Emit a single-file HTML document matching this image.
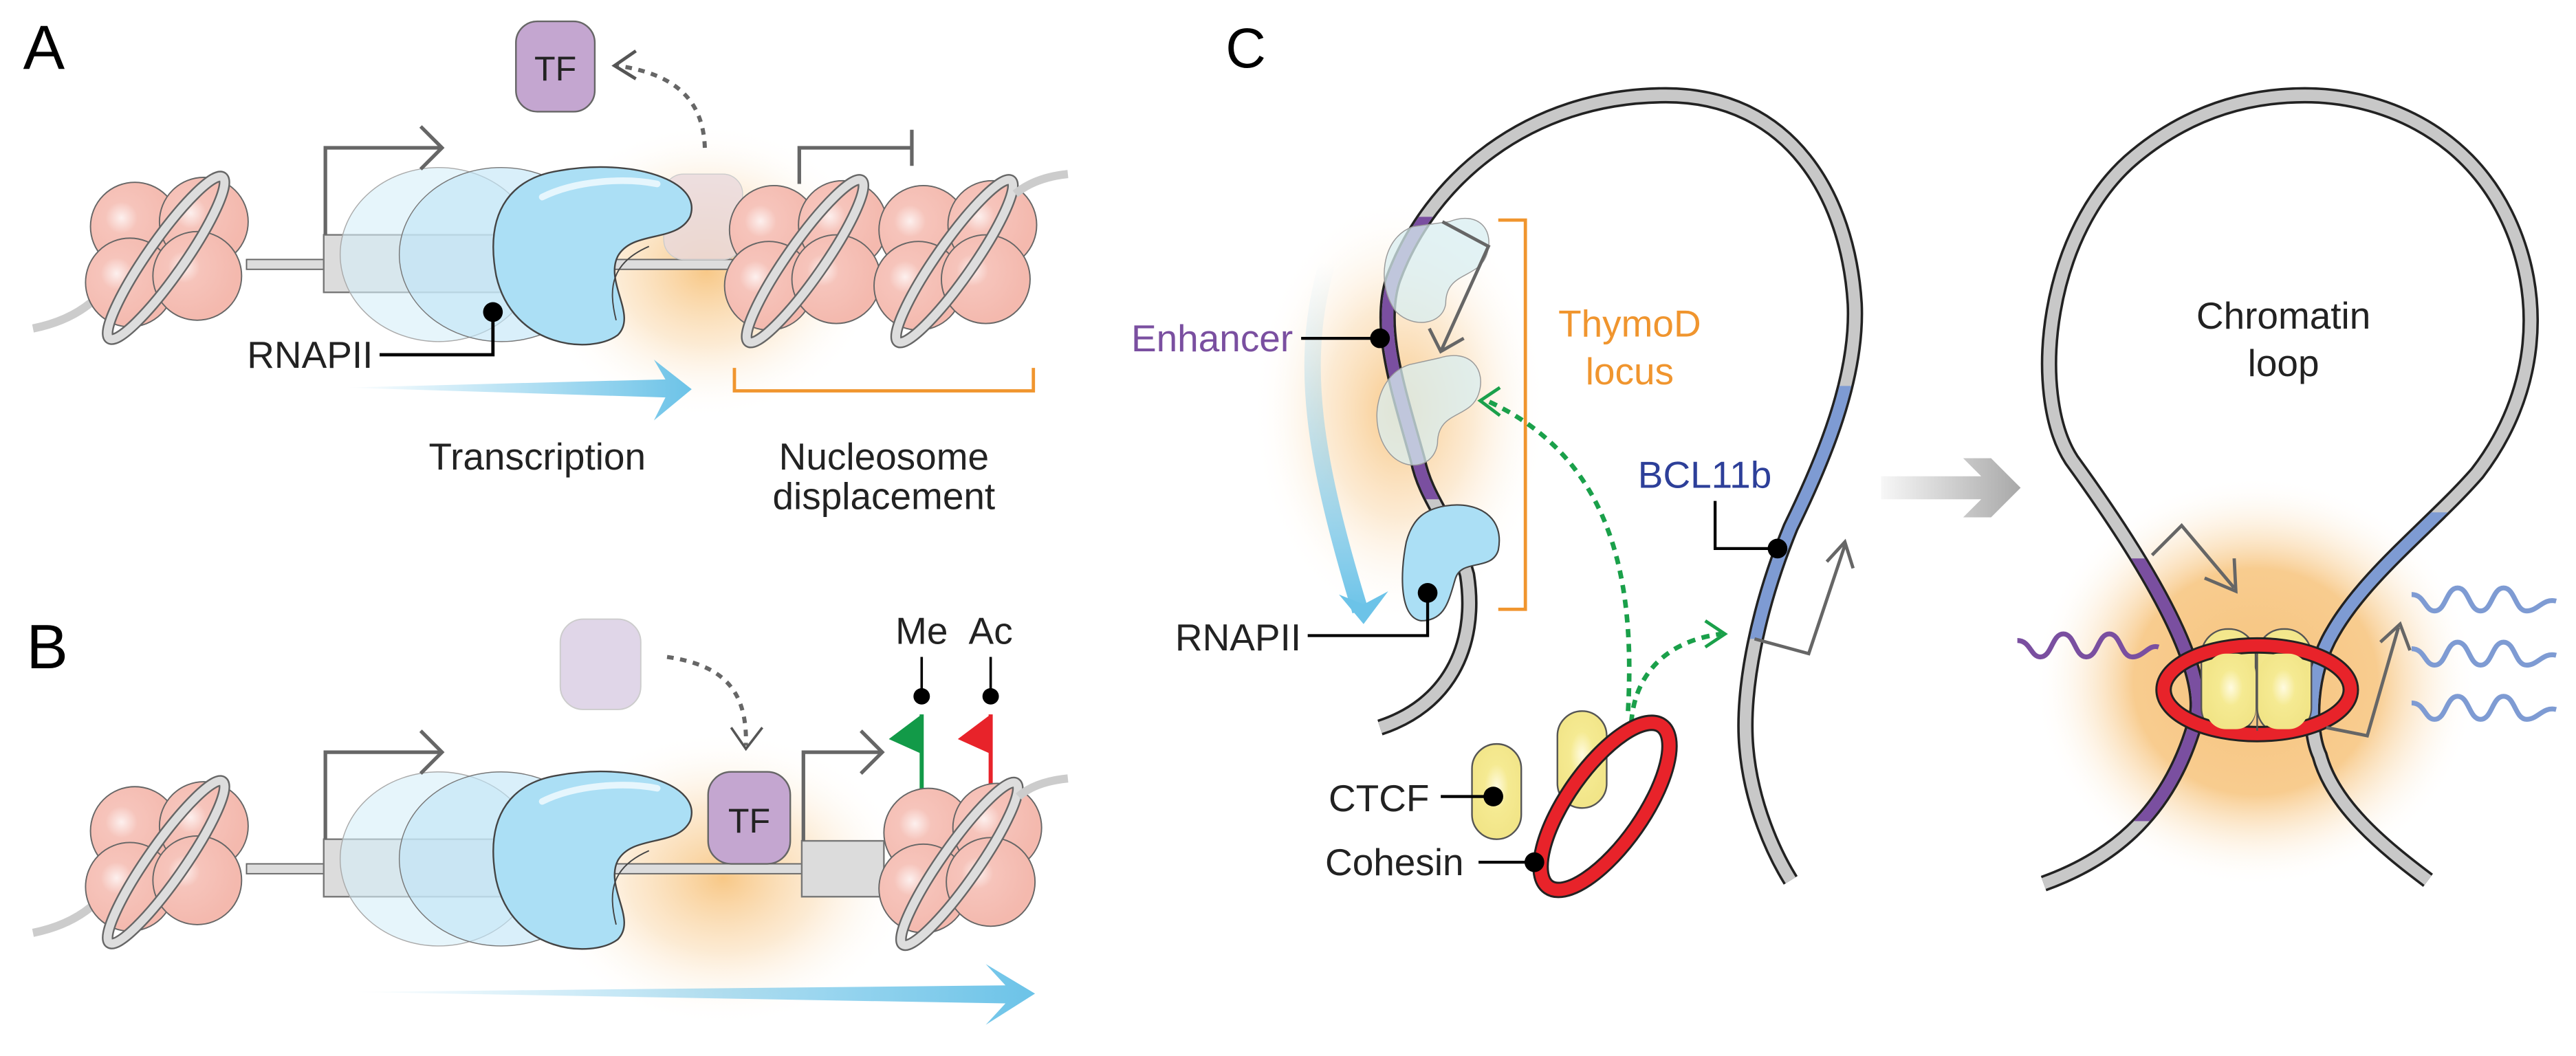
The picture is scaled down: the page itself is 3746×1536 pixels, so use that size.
<!DOCTYPE html>
<html><head><meta charset="utf-8"><style>
html,body{margin:0;padding:0;background:#fff;}
svg{display:block;}
text{font-family:"Liberation Sans",Arial,sans-serif;}
</style></head><body>
<svg width="3746" height="1536" viewBox="0 0 1568 643" xmlns="http://www.w3.org/2000/svg">
<defs>
<radialGradient id="sph" cx="0.35" cy="0.4" r="0.6">
<stop offset="0" stop-color="#fdf0ee"/><stop offset="0.3" stop-color="#f6c4bb"/><stop offset="1" stop-color="#f4b9ae"/></radialGradient>
<radialGradient id="glow" cx="0.5" cy="0.5" r="0.5">
<stop offset="0" stop-color="#f7c27a" stop-opacity="0.9"/><stop offset="0.5" stop-color="#f9d29e" stop-opacity="0.45"/><stop offset="1" stop-color="#fff" stop-opacity="0"/></radialGradient>
<radialGradient id="glow2" cx="0.5" cy="0.5" r="0.5">
<stop offset="0" stop-color="#f6c47e"/><stop offset="0.55" stop-color="#f8cc8f"/><stop offset="1" stop-color="#fff" stop-opacity="0"/></radialGradient>
<linearGradient id="blueArr" x1="0" x2="1" y1="0" y2="0">
<stop offset="0" stop-color="#6cc3e8" stop-opacity="0"/><stop offset="1" stop-color="#6cc3e8"/></linearGradient>
<linearGradient id="grayArr" x1="0" x2="1" y1="0" y2="0">
<stop offset="0" stop-color="#aaa" stop-opacity="0.1"/><stop offset="1" stop-color="#a8a8a8"/></linearGradient>
<linearGradient id="blueV" x1="0" x2="0" y1="0" y2="1">
<stop offset="0" stop-color="#9fd4ee" stop-opacity="0"/><stop offset="1" stop-color="#6cc3e8"/></linearGradient>
<radialGradient id="yel" cx="0.5" cy="0.45" r="0.6">
<stop offset="0" stop-color="#fffbe0"/><stop offset="0.4" stop-color="#f5ea92"/><stop offset="1" stop-color="#f1e486"/></radialGradient>
<clipPath id="cpL"><rect x="820" y="132" width="80" height="172"/></clipPath>
<clipPath id="cbL"><rect x="1060" y="235" width="80" height="154"/></clipPath>
<clipPath id="cpR"><rect x="1280" y="340" width="80" height="160"/></clipPath>
<clipPath id="cbR"><rect x="1390" y="312" width="110" height="134"/></clipPath>
<g id="nuc">
<circle cx="-19" cy="-17" r="27" fill="url(#sph)" stroke="#666" stroke-width="0.8"/>
<circle cx="23" cy="-20" r="27" fill="url(#sph)" stroke="#666" stroke-width="0.8"/>
<circle cx="-22" cy="17" r="27" fill="url(#sph)" stroke="#666" stroke-width="0.8"/>
<circle cx="19" cy="13" r="27" fill="url(#sph)" stroke="#666" stroke-width="0.8"/>
<ellipse cx="0" cy="2" rx="60" ry="11" transform="rotate(-55 0 2)" fill="none" stroke="#666" stroke-width="7"/>
<ellipse cx="0" cy="2" rx="60" ry="11" transform="rotate(-55 0 2)" fill="none" stroke="#ddd" stroke-width="5"/>
</g>
<g id="pol">
<path d="M340 104 C385 96 428 110 420 132 C412 148 385 140 376 156 C368 172 388 192 376 204 C360 216 312 212 302 168 C294 126 314 108 340 104Z" fill="#abdff5" stroke="#444" stroke-width="1"/>
<path d="M375 195 C370 175 372 160 395 150" fill="none" stroke="#444" stroke-width="0.8"/>
<path d="M330 120 C350 110 380 108 400 112" fill="none" stroke="#e6f6fd" stroke-width="4" stroke-linecap="round"/>
</g>
<path id="lstr" d="M840 443 C880 430 900 395 893 350 C885 320 868 305 863 280 C852 240 838 200 848 170 C870 110 930 58 1014 58 C1090 58 1125 120 1129 185 C1131 230 1110 280 1090 321 C1070 370 1060 420 1063 455 C1066 490 1080 520 1090 536"/>
<path id="rstr" d="M1244 538 C1280 525 1320 500 1337 437 C1345 400 1290 320 1261 280 C1235 240 1245 140 1300 95 C1340 62 1380 58 1403 58 C1450 58 1500 80 1525 130 C1550 180 1545 240 1508 288 C1480 320 1440 350 1420 385 C1405 410 1405 445 1412 460 C1420 490 1450 515 1478 536"/>
</defs>
<rect width="1568" height="643" fill="#fff"/>

<!-- ===== Panel A ===== -->
<text x="14" y="42" font-size="38">A</text>
<ellipse cx="430" cy="165" rx="105" ry="90" fill="url(#glow)"/>
<path d="M20 200 Q45 195 60 180" stroke="#ccc" stroke-width="5" fill="none"/>
<rect x="150" y="158" width="48" height="6" fill="#ddd" stroke="#666" stroke-width="0.8"/>
<rect x="197" y="143" width="110" height="35" fill="#dcdcdc" stroke="#777" stroke-width="1"/>
<use href="#nuc" x="101" y="155"/>
<ellipse cx="267" cy="155" rx="60" ry="53" fill="#d5eef9" fill-opacity="0.6" stroke="#aaa" stroke-width="0.6"/>
<ellipse cx="305" cy="155" rx="62" ry="53" fill="#bfe5f6" fill-opacity="0.6" stroke="#777" stroke-width="0.6"/>
<rect x="360" y="158" width="88" height="6" fill="#ddd" stroke="#666" stroke-width="0.8"/>
<rect x="404" y="106" width="48" height="52" rx="12" fill="#e8d8dc" fill-opacity="0.8" stroke="#ccc" stroke-width="0.6"/>
<use href="#pol"/>
<path d="M198 143 V90 H268 M256 77 L269 90 L256 103" fill="none" stroke="#666" stroke-width="2.2"/>
<use href="#nuc" x="490" y="157"/>
<use href="#nuc" x="581" y="157"/>
<path d="M618 118 Q630 108 650 106" stroke="#ccc" stroke-width="5" fill="none"/>
<path d="M486.5 112 V90 H555 M555 79 V101" fill="none" stroke="#666" stroke-width="2.2"/>
<rect x="314" y="13" width="48" height="55" rx="13" fill="#c4a6d0" stroke="#666" stroke-width="1"/>
<text x="338" y="49" font-size="21" text-anchor="middle" fill="#222">TF</text>
<path d="M429 90 C428 60 410 45 376 40" fill="none" stroke="#666" stroke-width="2.5" stroke-dasharray="4 4"/>
<path d="M387 31 L374 40 L387 48" fill="none" stroke="#555" stroke-width="2"/>
<circle cx="300" cy="190" r="6" fill="#000"/>
<path d="M300 190 V216 H231" fill="none" stroke="#000" stroke-width="2"/>
<text x="227" y="224" font-size="23" text-anchor="end" fill="#222">RNAPII</text>
<path d="M210 236 L405 231 L398 219 L421 237 L398 256 L405 242 Z" fill="url(#blueArr)"/>
<path d="M447 224 V238 H629 V224" fill="none" stroke="#f0952e" stroke-width="2"/>
<text x="327" y="286" font-size="23" text-anchor="middle" fill="#222">Transcription</text>
<text x="538" y="286" font-size="23" text-anchor="middle" fill="#222">Nucleosome</text>
<text x="538" y="310" font-size="23" text-anchor="middle" fill="#222">displacement</text>

<!-- ===== Panel B ===== -->
<text x="16" y="407" font-size="38">B</text>
<ellipse cx="440" cy="535" rx="115" ry="90" fill="url(#glow)"/>
<path d="M20 568 Q45 563 60 548" stroke="#ccc" stroke-width="5" fill="none"/>
<rect x="150" y="526" width="48" height="6" fill="#ddd" stroke="#666" stroke-width="0.8"/>
<rect x="197" y="511" width="110" height="35" fill="#dcdcdc" stroke="#777" stroke-width="1"/>
<use href="#nuc" x="101" y="523"/>
<ellipse cx="267" cy="523" rx="60" ry="53" fill="#d5eef9" fill-opacity="0.6" stroke="#aaa" stroke-width="0.6"/>
<ellipse cx="305" cy="523" rx="62" ry="53" fill="#bfe5f6" fill-opacity="0.6" stroke="#777" stroke-width="0.6"/>
<rect x="360" y="526" width="130" height="6" fill="#ddd" stroke="#666" stroke-width="0.8"/>
<g transform="translate(0,368)"><use href="#pol"/></g>
<path d="M198 511 V458 H268 M256 445 L269 458 L256 471" fill="none" stroke="#666" stroke-width="2.2"/>
<rect x="431" y="470" width="50" height="56" rx="14" fill="#c4a6d0" stroke="#666" stroke-width="1"/>
<text x="456" y="507" font-size="21" text-anchor="middle" fill="#222">TF</text>
<rect x="341" y="377" width="49" height="55" rx="14" fill="#e0d6e8" stroke="#ccc" stroke-width="0.8"/>
<path d="M406 400 C440 405 455 420 454 454" fill="none" stroke="#666" stroke-width="2.5" stroke-dasharray="4 4"/>
<path d="M445 443 L454 456 L464 443" fill="none" stroke="#555" stroke-width="1.5"/>
<rect x="488" y="512" width="50" height="34" fill="#dcdcdc" stroke="#777" stroke-width="1"/>
<path d="M489 512 V458 H536 M524 445 L537 458 L524 471" fill="none" stroke="#666" stroke-width="2.2"/>
<line x1="561" y1="435" x2="561" y2="482" stroke="#129a48" stroke-width="2.5"/>
<path d="M561 435 L541 450 L561 459Z" fill="#129a48"/>
<line x1="603" y1="435" x2="603" y2="482" stroke="#e8232a" stroke-width="2.5"/>
<path d="M603 435 L583 450 L603 459Z" fill="#e8232a"/>
<use href="#nuc" x="584" y="524"/>
<path d="M620 485 Q630 476 650 474" stroke="#ccc" stroke-width="5" fill="none"/>
<line x1="561" y1="400" x2="561" y2="424" stroke="#000" stroke-width="1.5"/>
<circle cx="561" cy="424" r="5" fill="#000"/>
<line x1="603" y1="400" x2="603" y2="424" stroke="#000" stroke-width="1.5"/>
<circle cx="603" cy="424" r="5" fill="#000"/>
<text x="561" y="392" font-size="23" text-anchor="middle" fill="#222">Me</text>
<text x="603" y="392" font-size="23" text-anchor="middle" fill="#222">Ac</text>
<path d="M214 604 L612 600 L600 587 L630 605 L600 624 L612 611 Z" fill="url(#blueArr)"/>

<!-- ===== Panel C left ===== -->
<text x="746" y="41" font-size="34">C</text>
<ellipse cx="852" cy="250" rx="90" ry="130" fill="url(#glow)"/>
<path d="M808 160 C790 220 800 280 828 372" fill="none" stroke="url(#blueV)" stroke-width="10"/>
<path d="M815 362 L830 380 L845 360 L830 368 Z" fill="#6cc3e8"/>
<g fill="none">
<use href="#lstr" stroke="#222" stroke-width="10"/>
<use href="#lstr" stroke="#c8c8c8" stroke-width="7"/>
<use href="#lstr" stroke="#7a4fa0" stroke-width="7" clip-path="url(#cpL)"/>
<use href="#lstr" stroke="#7e9bd3" stroke-width="7" clip-path="url(#cbL)"/>
</g>
<path d="M882 135 C900 128 910 140 905 155 C900 170 880 165 880 185 C878 198 860 200 850 190 C838 175 840 145 860 138Z" fill="#d8eef0" fill-opacity="0.75" stroke="#999" stroke-width="0.6"/>
<path d="M876 218 C895 212 905 225 900 240 C895 255 875 250 875 270 C873 285 855 288 845 275 C832 258 838 228 858 222Z" fill="#d8eef0" fill-opacity="0.75" stroke="#999" stroke-width="0.6"/>
<path d="M880 308 C900 305 916 315 912 335 C908 348 890 340 886 352 C882 365 880 378 865 378 C852 376 852 350 856 330 C860 315 868 310 880 308Z" fill="#abdff5" stroke="#444" stroke-width="0.9"/>
<path d="M878 135 L906 150 L877 214 M870 200 L877 214 L891 206" fill="none" stroke="#666" stroke-width="2"/>
<path d="M912 134 H928.5 V371 H912" fill="none" stroke="#f0952e" stroke-width="2"/>
<circle cx="840" cy="206" r="6" fill="#000"/>
<line x1="792" y1="206" x2="840" y2="206" stroke="#000" stroke-width="1.8"/>
<text x="787" y="214" font-size="23" text-anchor="end" fill="#7a4fa0">Enhancer</text>
<circle cx="869" cy="361" r="6" fill="#000"/>
<path d="M869 361 V387 H796" fill="none" stroke="#000" stroke-width="1.8"/>
<text x="792" y="396" font-size="23" text-anchor="end" fill="#222">RNAPII</text>
<text x="992" y="205" font-size="23" text-anchor="middle" fill="#f0952e">ThymoD</text>
<text x="992" y="234" font-size="23" text-anchor="middle" fill="#f0952e">locus</text>
<path d="M991 433 C995 360 985 280 905 244" fill="none" stroke="#1aa04a" stroke-width="2.8" stroke-dasharray="5 4"/>
<path d="M913 236 L901 244 L913 253" fill="none" stroke="#1aa04a" stroke-width="2"/>
<path d="M993 440 C995 410 1015 390 1048 386" fill="none" stroke="#1aa04a" stroke-width="2.8" stroke-dasharray="5 4"/>
<path d="M1038 378 L1050 386 L1038 394" fill="none" stroke="#1aa04a" stroke-width="2"/>
<text x="997" y="297" font-size="23" fill="#2d3f99">BCL11b</text>
<path d="M1044 305 V334 H1082" fill="none" stroke="#000" stroke-width="1.8"/>
<circle cx="1082" cy="334" r="6" fill="#000"/>
<path d="M1068 389 L1101 398 L1123 332 M1112 342 L1123 330 L1128 346" fill="none" stroke="#666" stroke-width="2"/>
<rect x="896" y="453" width="30" height="58" rx="15" fill="url(#yel)" stroke="#555" stroke-width="1"/>
<rect x="948" y="433" width="30" height="59" rx="15" fill="url(#yel)" stroke="#555" stroke-width="1"/>
<ellipse cx="977" cy="491" rx="60" ry="23" transform="rotate(-55 977 491)" fill="none" stroke="#222" stroke-width="10"/>
<ellipse cx="977" cy="491" rx="60" ry="23" transform="rotate(-55 977 491)" fill="none" stroke="#e8232a" stroke-width="7.5"/>
<circle cx="909" cy="485" r="6" fill="#000"/>
<line x1="877" y1="485" x2="909" y2="485" stroke="#000" stroke-width="1.8"/>
<text x="870" y="494" font-size="23" text-anchor="end" fill="#222">CTCF</text>
<circle cx="934" cy="525" r="6" fill="#000"/>
<line x1="900" y1="525" x2="934" y2="525" stroke="#000" stroke-width="1.8"/>
<text x="891" y="533" font-size="23" text-anchor="end" fill="#222">Cohesin</text>
<path d="M1145 290 L1206 290 L1195 279 L1212 279 L1230 297 L1212 315 L1195 315 L1206 304 L1145 304 Z" fill="url(#grayArr)"/>

<!-- ===== Panel C right ===== -->
<ellipse cx="1373" cy="415" rx="135" ry="125" fill="url(#glow2)"/>
<g fill="none">
<use href="#rstr" stroke="#222" stroke-width="10"/>
<use href="#rstr" stroke="#c8c8c8" stroke-width="7"/>
<use href="#rstr" stroke="#7a4fa0" stroke-width="7" clip-path="url(#cpR)"/>
<use href="#rstr" stroke="#7e9bd3" stroke-width="7" clip-path="url(#cbR)"/>
</g>
<path d="M1228 390 c8 0 8 10 14 10 c7 0 7-14 14-14 c7 0 7 14 14 14 c7 0 7-14 14-14 c7 0 7 14 14 14 c7 0 10-8 16-6" fill="none" stroke="#7a4fa0" stroke-width="3"/>
<g fill="none" stroke="#7e9bd3" stroke-width="3">
<path d="M1468 362 c8 0 8 10 14 10 c7 0 7-14 14-14 c7 0 7 14 14 14 c7 0 7-14 14-14 c7 0 7 14 14 14 c7 0 10-8 18-6"/>
<path d="M1468 395 c8 0 8 10 14 10 c7 0 7-14 14-14 c7 0 7 14 14 14 c7 0 7-14 14-14 c7 0 7 14 14 14 c7 0 10-8 18-6"/>
<path d="M1468 428 c8 0 8 10 14 10 c7 0 7-14 14-14 c7 0 7 14 14 14 c7 0 7-14 14-14 c7 0 7 14 14 14 c7 0 10-8 18-6"/>
</g>
<rect x="1340" y="383" width="33" height="64" rx="16" fill="url(#yel)" stroke="#555" stroke-width="1"/>
<rect x="1374" y="383" width="33" height="64" rx="16" fill="url(#yel)" stroke="#555" stroke-width="1"/>
<ellipse cx="1374" cy="420" rx="57" ry="27" fill="none" stroke="#222" stroke-width="10"/>
<ellipse cx="1374" cy="420" rx="57" ry="27" fill="none" stroke="#e8232a" stroke-width="7.5"/>
<rect x="1343" y="398" width="30" height="46" rx="12" fill="url(#yel)" stroke="none"/>
<rect x="1375" y="398" width="30" height="46" rx="12" fill="url(#yel)" stroke="none"/>
<line x1="1374" y1="400" x2="1374" y2="445" stroke="#555" stroke-width="1"/>
<path d="M1310 338 L1328 320 L1360 358 M1342 352 L1361 360 L1360 340" fill="none" stroke="#666" stroke-width="2"/>
<path d="M1416 443 L1441 448 L1460 382 M1449 391 L1461 380 L1467 396" fill="none" stroke="#666" stroke-width="2"/>
<text x="1390" y="200" font-size="23" text-anchor="middle" fill="#222">Chromatin</text>
<text x="1390" y="229" font-size="23" text-anchor="middle" fill="#222">loop</text>
</svg>
</body></html>
